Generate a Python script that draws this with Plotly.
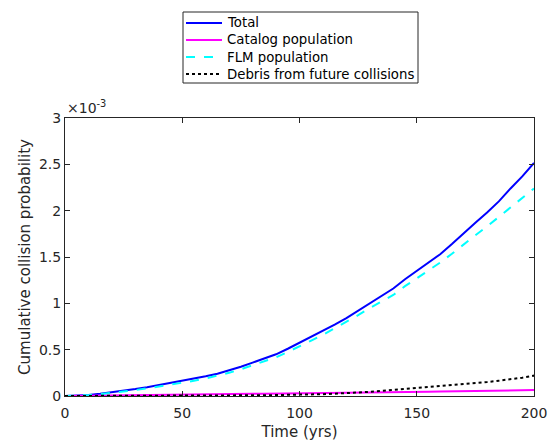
import plotly.graph_objects as go

# Time axis (years)
years = list(range(0, 201, 5))

# Cumulative collision probability, in units of 1e-3
total = [0.0, 0.003, 0.012, 0.025, 0.040, 0.057, 0.075, 0.095, 0.118, 0.135,
         0.160, 0.185, 0.212, 0.240, 0.275, 0.315, 0.360, 0.405, 0.450, 0.510,
         0.575, 0.635, 0.700, 0.770, 0.840, 0.920, 1.000, 1.080, 1.160, 1.260,
         1.350, 1.440, 1.530, 1.640, 1.760, 1.870, 1.980, 2.100, 2.240, 2.370,
         2.515]
catalog = [0.0, 0.001, 0.002, 0.004, 0.005, 0.007, 0.008, 0.010, 0.011, 0.013,
           0.014, 0.016, 0.017, 0.019, 0.020, 0.022, 0.023, 0.025, 0.026, 0.028,
           0.029, 0.031, 0.032, 0.034, 0.035, 0.037, 0.038, 0.040, 0.041, 0.043,
           0.044, 0.046, 0.048, 0.050, 0.052, 0.054, 0.056, 0.058, 0.060, 0.062,
           0.064]
flm = [0.0, 0.002, 0.009, 0.020, 0.033, 0.048, 0.064, 0.082, 0.103, 0.118,
       0.141, 0.164, 0.190, 0.216, 0.250, 0.289, 0.330, 0.375, 0.418, 0.475,
       0.540, 0.598, 0.660, 0.728, 0.795, 0.872, 0.950, 1.020, 1.090, 1.185,
       1.270, 1.355, 1.440, 1.535, 1.640, 1.735, 1.830, 1.930, 2.040, 2.135,
       2.240]
debris = [0.0, 0.0, 0.001, 0.001, 0.001, 0.001, 0.002, 0.002, 0.002, 0.003,
          0.003, 0.004, 0.004, 0.005, 0.005, 0.006, 0.007, 0.008, 0.010, 0.011,
          0.013, 0.016, 0.020, 0.025, 0.030, 0.037, 0.045, 0.055, 0.065, 0.075,
          0.085, 0.095, 0.105, 0.115, 0.125, 0.137, 0.150, 0.165, 0.180, 0.198,
          0.220]

series_names = ["Total", "Catalog population", "FLM population",
                "Debris from future collisions"]
series_values = [total, catalog, flm, debris]

x_ticks = [0, 50, 100, 150, 200]
y_ticks = [0, 0.5, 1, 1.5, 2, 2.5, 3]
y_tick_text = ["0", "0.5", "1", "1.5", "2", "2.5", "3"]

FONT = "DejaVu Sans"
AX = "#262626"
styles = [
    dict(color="#0000FF", width=2),
    dict(color="#FF00FF", width=2),
    dict(color="#00FFFF", width=2, dash="dash"),
    dict(color="#000000", width=2, dash="dot"),
]

W, H = 553, 441
ML, MR, MT, MB = 65, 19, 118, 45
PW, PH = W - ML - MR, H - MT - MB


def px_x(p):
    return (p - ML) / PW


def px_y(p):
    return (H - MB - p) / PH


fig = go.Figure()
for name, vals, st in zip(series_names, series_values, styles):
    fig.add_trace(go.Scatter(x=years, y=vals, mode="lines", name=name,
                             line=st, showlegend=False))

axis_common = dict(
    showline=True, linecolor=AX, linewidth=1, mirror="ticks",
    ticks="inside", ticklen=5, tickcolor=AX, tickwidth=1,
    showgrid=False, zeroline=False, automargin=False,
    tickfont=dict(family=FONT, size=14, color=AX),
)

# Boxed legend above the axes
shapes = [dict(type="rect", xref="paper", yref="paper",
               x0=px_x(183), x1=px_x(418), y0=px_y(83), y1=px_y(12),
               line=dict(color=AX, width=1), fillcolor="white", layer="above")]
annotations = []
row_y = [23, 40, 57, 74]
for name, st, ry in zip(series_names, styles, row_y):
    shapes.append(dict(type="line", xref="paper", yref="paper",
                       x0=px_x(186), x1=px_x(222), y0=px_y(ry), y1=px_y(ry),
                       line=st, layer="above"))
    annotations.append(dict(text=name, xref="paper", yref="paper",
                            x=px_x(225), y=px_y(ry), xanchor="left",
                            yanchor="middle", showarrow=False,
                            font=dict(family=FONT, size=13.3, color="#000000")))

annotations.append(dict(text="\u00d710<sup>-3</sup>", xref="paper", yref="paper",
                        x=0.0, y=1.0, xanchor="left", yanchor="bottom",
                        showarrow=False,
                        font=dict(family=FONT, size=14, color=AX)))

fig.update_layout(
    width=W, height=H,
    margin=dict(l=ML, r=MR, t=MT, b=MB),
    paper_bgcolor="white", plot_bgcolor="white",
    font=dict(family=FONT, color=AX),
    showlegend=False,
    xaxis=dict(range=[0, 200], tickvals=x_ticks, ticklabelstandoff=4,
               title=dict(text="Time (yrs)",
                          font=dict(family=FONT, size=15, color=AX),
                          standoff=8),
               **axis_common),
    yaxis=dict(range=[0, 3], tickvals=y_ticks, ticktext=y_tick_text,
               title=dict(text="Cumulative collision probability",
                          font=dict(family=FONT, size=15, color=AX),
                          standoff=4),
               **axis_common),
    shapes=shapes,
    annotations=annotations,
)

fig.write_html("out.html")
